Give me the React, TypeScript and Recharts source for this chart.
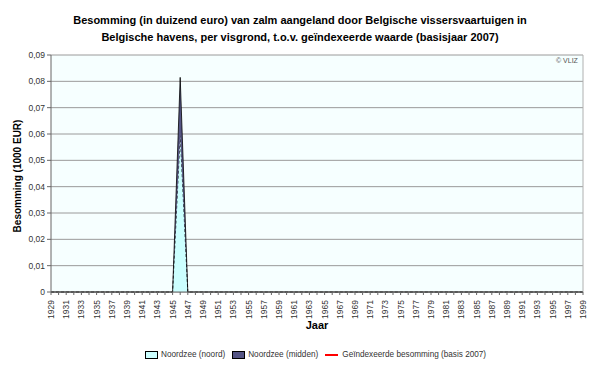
import React from 'react';
import { AreaChart, Area, Line, XAxis, YAxis, CartesianGrid, Legend, ReferenceLine } from 'recharts';

const years = [
  '1929','1930','1931','1932','1933','1934','1935','1936','1937','1938',
  '1939','1940','1941','1942','1943','1944','1945','1946','1947','1948',
  '1949','1950','1951','1952','1953','1954','1955','1956','1957','1958',
  '1959','1960','1961','1962','1963','1964','1965','1966','1967','1968',
  '1969','1970','1971','1972','1973','1974','1975','1976','1977','1978',
  '1979','1980','1981','1982','1983','1984','1985','1986','1987','1988',
  '1989','1990','1991','1992','1993','1994','1995','1996','1997','1998',
  '1999',
];

// Noordzee (noord)
const noord = [
  0,0,0,0,0,0,0,0,0,0,
  0,0,0,0,0,0,0,0.06,0,0,
  0,0,0,0,0,0,0,0,0,0,
  0,0,0,0,0,0,0,0,0,0,
  0,0,0,0,0,0,0,0,0,0,
  0,0,0,0,0,0,0,0,0,0,
  0,0,0,0,0,0,0,0,0,0,
  0,
];

// Noordzee (midden)
const midden = [
  0,0,0,0,0,0,0,0,0,0,
  0,0,0,0,0,0,0,0.0215,0,0,
  0,0,0,0,0,0,0,0,0,0,
  0,0,0,0,0,0,0,0,0,0,
  0,0,0,0,0,0,0,0,0,0,
  0,0,0,0,0,0,0,0,0,0,
  0,0,0,0,0,0,0,0,0,0,
  0,
];

// Geïndexeerde besomming (basis 2007) - no visible values
const geindexeerd: (number | null)[] = [
  null,null,null,null,null,null,null,null,null,null,
  null,null,null,null,null,null,null,null,null,null,
  null,null,null,null,null,null,null,null,null,null,
  null,null,null,null,null,null,null,null,null,null,
  null,null,null,null,null,null,null,null,null,null,
  null,null,null,null,null,null,null,null,null,null,
  null,null,null,null,null,null,null,null,null,null,
  null,
];

const yTicks = [0, 0.01, 0.02, 0.03, 0.04, 0.05, 0.06, 0.07, 0.08, 0.09];

const data = years.map((y, i) => ({
  year: y,
  noord: noord[i],
  midden: midden[i],
  geind: geindexeerd[i],
}));

const FONT = '"Liberation Sans", Arial, sans-serif';

const XTick = (props: any) => {
  const { x, y, payload, index } = props;
  if (index % 2 !== 0) return null;
  return (
    <g transform={`translate(${x},${y + 3})`}>
      <text transform="rotate(-90)" textAnchor="end" dy={3} fontSize={8.5} fill="#333" fontFamily={FONT}>
        {payload.value}
      </text>
    </g>
  );
};

const fmtY = (v: number) => (v === 0 ? '0' : v.toFixed(2).replace('.', ','));

const LegendContent = () => {
  const item = { display: 'inline-flex', alignItems: 'center', marginRight: 7 } as React.CSSProperties;
  return (
    <div style={{ display: 'flex', justifyContent: 'flex-start', paddingLeft: 145, fontFamily: FONT, fontSize: 8.2, color: '#333' }}>
      <span style={item}>
        <span style={{ width: 11, height: 6, background: '#CCFFFF', border: '1px solid #000', marginRight: 3 }} />
        Noordzee (noord)
      </span>
      <span style={item}>
        <span style={{ width: 11, height: 6, background: '#555585', border: '1px solid #000', marginRight: 3 }} />
        Noordzee (midden)
      </span>
      <span style={item}>
        <span style={{ width: 13, height: 2, background: '#FF0000', marginRight: 4 }} />
        Geïndexeerde besomming (basis 2007)
      </span>
    </div>
  );
};

export default function App() {
  return (
    <div style={{ position: 'absolute', left: 0, top: 0, width: 600, height: 368, background: '#fff', fontFamily: FONT }}>
      <div style={{ position: 'absolute', left: 0, top: 12, width: 600, textAlign: 'center', fontSize: 11, fontWeight: 'bold', lineHeight: '17px', color: '#000' }}>
        Besomming (in duizend euro) van zalm aangeland door Belgische vissersvaartuigen in
        <br />
        Belgische havens, per visgrond, t.o.v. geïndexeerde waarde (basisjaar 2007)
      </div>
      <AreaChart
        width={600}
        height={368}
        data={data}
        margin={{ top: 55, right: 17, bottom: 48, left: 0 }}
      >
        <CartesianGrid vertical={false} stroke="#9a9a9a" fill="#F6FFFF" />
        <XAxis
          dataKey="year"
          interval={0}
          tick={<XTick />}
          tickSize={3}
          height={28}
          stroke="#666"
          axisLine={{ stroke: '#666' }}
        />
        <YAxis
          domain={[0, 0.09]}
          ticks={yTicks}
          tickFormatter={fmtY}
          width={51}
          tickSize={4}
          tickMargin={2}
          interval={0}
          stroke="#666"
          tick={{ fontSize: 8.5, fill: '#333', fontFamily: FONT }}
        />
        <ReferenceLine x="1999" stroke="#b0b0b0" />
        <Area
          type="linear"
          dataKey="noord"
          stackId="a"
          stroke="#000"
          strokeWidth={0.8}
          strokeDasharray="3 2"
          fill="#CCFFFF"
          fillOpacity={1}
          isAnimationActive={false}
        />
        <Area
          type="linear"
          dataKey="midden"
          stackId="a"
          stroke="#000"
          strokeWidth={0.8}
          fill="#555585"
          fillOpacity={1}
          isAnimationActive={false}
        />
        <Line
          type="linear"
          dataKey="geind"
          stroke="#FF0000"
          dot={false}
          isAnimationActive={false}
        />
        <Legend
          verticalAlign="middle"
          align="center"
          content={<LegendContent />}
          wrapperStyle={{ top: 350, left: 0, width: 600, height: 14 }}
        />
      </AreaChart>
      <div style={{ position: 'absolute', left: 0, top: 176, width: 0, height: 0 }}>
        <div style={{ position: 'absolute', left: 18, top: 0, transform: 'translate(-50%,-50%) rotate(-90deg)', whiteSpace: 'nowrap', fontSize: 10, fontWeight: 'bold', color: '#000', lineHeight: '12px' }}>
          Besomming (1000 EUR)
        </div>
      </div>
      <div style={{ position: 'absolute', left: 300, top: 319, width: 34, textAlign: 'center', fontSize: 11, fontWeight: 'bold', color: '#000' }}>
        Jaar
      </div>
      <div style={{ position: 'absolute', left: 556, top: 57, fontSize: 7, color: '#555' }}>
        © VLIZ
      </div>
    </div>
  );
}
